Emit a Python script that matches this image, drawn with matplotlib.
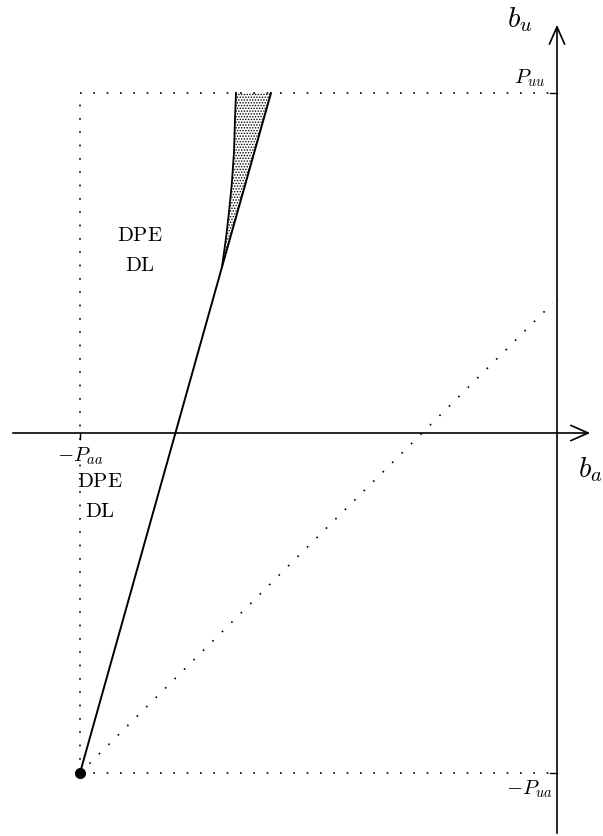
import matplotlib.pyplot as plt
import numpy as np
from matplotlib.patches import Polygon

plt.rcParams['mathtext.fontset'] = 'cm'
plt.rcParams['hatch.linewidth'] = 0.7

# axis bounds (pixel-ish units, /100)
P_aa = 4.77
P_uu = 3.40
P_ua = 3.40

# solid boundary: straight part and curved left edge of the shaded wedge
line_b_a = [-4.77, -3.35, -2.86]
line_b_u = [-3.40, 1.66, 3.40]
curve_b_a = [-3.35, -3.31, -3.28, -3.253, -3.23, -3.22, -3.21]
curve_b_u = [1.66, 1.95, 2.21, 2.48, 2.81, 3.15, 3.40]

# dotted diagonal
diag_b_a = [-4.77, -0.04]
diag_b_u = [-3.40, 1.30]

fig = plt.figure(figsize=(6.03, 8.36), dpi=100)
ax = fig.add_axes([0, 0, 1, 1])
ax.set_xlim(-5.57, 0.46)
ax.set_ylim(-4.03, 4.33)
ax.axis('off')

# axes with arrows
ax.annotate('', xy=(0.36, 0), xytext=(-5.47, 0),
            arrowprops=dict(arrowstyle='->, head_length=0.5, head_width=0.22',
                            lw=1.2, mutation_scale=25, color='black'))
ax.annotate('', xy=(0, 4.11), xytext=(0, -4.03),
            arrowprops=dict(arrowstyle='->, head_length=0.5, head_width=0.22',
                            lw=1.2, mutation_scale=25, color='black'))

# ticks
ax.plot([-0.07, 0], [P_uu, P_uu], color='black', lw=1)
ax.plot([-0.07, 0], [-P_ua, -P_ua], color='black', lw=1)
ax.plot([-P_aa, -P_aa], [0, -0.06], color='black', lw=1)

# dotted box
dot = dict(color='black', lw=1.2, linestyle=(0, (1, 7)))
ax.plot([-P_aa, -P_aa], [-P_ua, P_uu], **dot)
ax.plot([-P_aa, 0], [P_uu, P_uu], **dot)
ax.plot([-P_aa, 0], [-P_ua, -P_ua], **dot)
ax.plot(diag_b_a, diag_b_u, **dot)

# shaded wedge
wedge = list(zip(curve_b_a, curve_b_u)) + [(line_b_a[2], line_b_u[2]), (line_b_a[1], line_b_u[1])]
ax.add_patch(Polygon(wedge, closed=True, facecolor='white', edgecolor='black',
                     hatch='......', lw=0))

ax.plot(line_b_a, line_b_u, color='black', lw=1.4)
ax.plot(curve_b_a, curve_b_u, color='black', lw=1.3)
ax.plot([-P_aa], [-P_ua], 'o', color='black', markersize=7)

# labels
ax.text(-0.37, 4.13, '$b_u$', fontsize=21, ha='center', va='center')
ax.text(0.33, -0.37, '$b_a$', fontsize=21, ha='center', va='center')
ax.text(-0.27, 3.55, '$P_{uu}$', fontsize=15, ha='center', va='center')
ax.text(-4.77, -0.23, '$-P_{aa}$', fontsize=15, ha='center', va='center')
ax.text(-0.27, -3.56, '$-P_{ua}$', fontsize=15, ha='center', va='center')
ax.text(-4.17, 1.83, '$\\mathrm{DPE}$\n$\\mathrm{DL}$', fontsize=15, ha='center',
        va='center', linespacing=1.6)
ax.text(-4.57, -0.63, '$\\mathrm{DPE}$\n$\\mathrm{DL}$', fontsize=15, ha='center',
        va='center', linespacing=1.6)

fig.savefig('out.png', dpi=100, facecolor='white')
